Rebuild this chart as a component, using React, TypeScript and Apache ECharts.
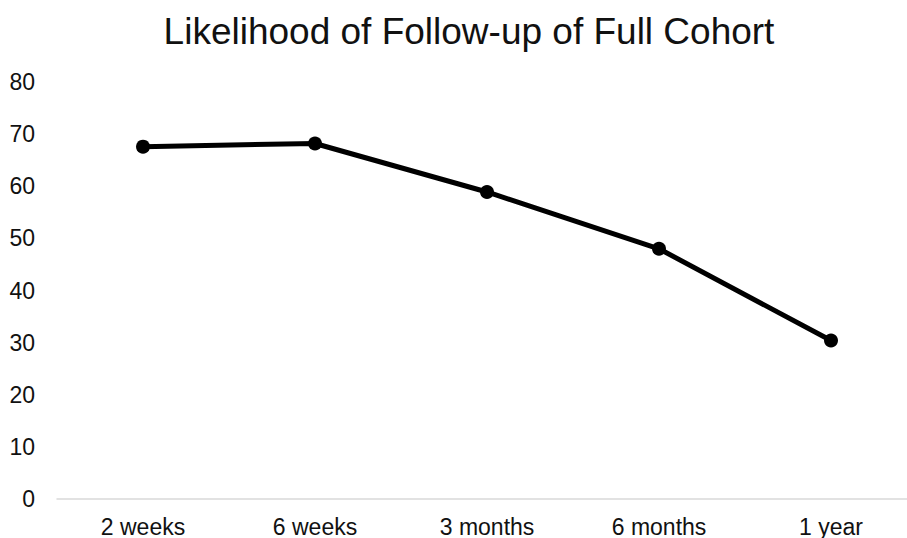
import React, { useEffect, useRef } from "react";
import * as echarts from "echarts";

const timepoints = ["2 weeks", "6 weeks", "3 months", "6 months", "1 year"];
const followUpRate = [67.6, 68.2, 58.9, 48.0, 30.4];
const yTicks = { min: 0, max: 80, interval: 10 };

export default function App() {
  const ref = useRef<HTMLDivElement>(null);

  useEffect(() => {
    if (!ref.current) return;
    const chart = echarts.init(ref.current, null, { renderer: "svg" });
    chart.setOption({
      animation: false,
      backgroundColor: "#ffffff",
      textStyle: { fontFamily: "Liberation Sans, Arial, sans-serif" },
      title: {
        text: "Likelihood of Follow-up of Full Cohort",
        left: 464,
        top: 8,
        textAlign: "center",
        textStyle: {
          fontSize: 37,
          fontWeight: "normal",
          color: "#111111",
          fontFamily: "Liberation Sans, Arial, sans-serif",
        },
      },
      // the plot area runs a little past the visible right edge
      grid: { left: 57, top: 82, width: 860, height: 418, containLabel: false },
      xAxis: {
        type: "category",
        data: timepoints,
        boundaryGap: true,
        axisLine: { show: true, lineStyle: { color: "#d9d9d9", width: 1.5 } },
        axisTick: { show: false },
        axisLabel: { fontSize: 23, color: "#111111", margin: 16 },
        splitLine: { show: false },
      },
      yAxis: {
        type: "value",
        min: yTicks.min,
        max: yTicks.max,
        interval: yTicks.interval,
        axisLine: { show: false },
        axisTick: { show: false },
        splitLine: { show: false },
        axisLabel: { fontSize: 23, color: "#111111", margin: 22 },
      },
      series: [
        {
          type: "line",
          data: followUpRate,
          symbol: "circle",
          symbolSize: 14,
          lineStyle: { color: "#000000", width: 5 },
          itemStyle: { color: "#000000" },
        },
      ],
    });
    return () => chart.dispose();
  }, []);

  return (
    <div
      style={{
        position: "fixed",
        left: 0,
        top: 0,
        width: 907,
        height: 538,
        overflow: "hidden",
        background: "#ffffff",
      }}
    >
      <div ref={ref} style={{ width: 930, height: 538 }} />
    </div>
  );
}
